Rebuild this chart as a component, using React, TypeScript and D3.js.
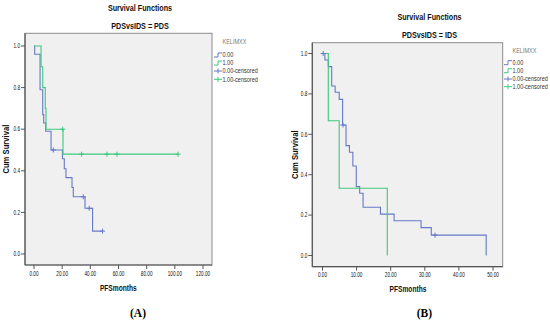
import * as React from "react";
import * as d3 from "d3";

// Panel A (PDS) - KELİMXX = 0.00
const pdsTime0 = [0, 0.5, 4.3, 6.2, 6.9, 8.3, 12.1, 20.2, 21.5, 22.7, 27.0, 27.9, 36.2, 41.6, 48.7];
const pdsSurv0 = [1, 0.96, 0.79, 0.67, 0.63, 0.59, 0.5, 0.458, 0.41, 0.367, 0.32, 0.275, 0.22, 0.11, 0.11];
const pdsCensTime0 = [13.7, 35.0, 39.2, 48.7];
const pdsCensSurv0 = [0.5, 0.275, 0.22, 0.11];
// Panel A (PDS) - KELİMXX = 1.00
const pdsTime1 = [0, 5.0, 6.2, 8.0, 8.5, 20.6, 102.3];
const pdsSurv1 = [1, 0.9, 0.8, 0.7, 0.6, 0.48, 0.48];
const pdsCensTime1 = [20.4, 33.8, 51.8, 58.9, 102.3];
const pdsCensSurv1 = [0.6, 0.48, 0.48, 0.48, 0.48];

// Panel B (IDS) - KELİMXX = 0.00
const idsTime0 = [0, 0.7, 1.7, 2.7, 3.7, 4.9, 5.9, 6.9, 7.9, 8.9, 9.9, 10.9, 11.9, 17.0, 21.0, 28.9, 31.9, 48.0];
const idsSurv0 = [1, 0.968, 0.935, 0.839, 0.808, 0.773, 0.646, 0.544, 0.511, 0.443, 0.341, 0.308, 0.239, 0.205, 0.172, 0.138, 0.101, 0];
const idsCensTime0 = [0.2, 6.0, 33.0];
const idsCensSurv0 = [1, 0.646, 0.101];
// Panel B (IDS) - KELİMXX = 1.00
const idsTime1 = [0, 1.7, 4.9, 19.0];
const idsSurv1 = [1, 0.667, 0.333, 0];

const pdsXTicks = [0, 20, 40, 60, 80, 100, 120];
const idsXTicks = [0, 10, 20, 30, 40, 50];
const yTicks = [0, 0.2, 0.4, 0.6, 0.8, 1.0];
const legendLabels = ["0.00", "1.00", "0.00-censored", "1.00-censored"];

const BLUE = "#6479c6";
const GREEN = "#3cc97e";
const FONT = "'Liberation Sans', Arial, sans-serif";

// condensed text helper (SPSS uses a narrow font)
const CText = ({ x, y, size, sx = 0.75, anchor = "middle", bold = false, rotate = 0, fill = "#111", children }) => (
  <text
    transform={`translate(${x},${y}) rotate(${rotate}) scale(${sx},1)`}
    fontSize={size}
    fontFamily={FONT}
    fontWeight={bold ? "bold" : "normal"}
    textAnchor={anchor}
    dy="0.35em"
    fill={fill}
  >
    {children}
  </text>
);

const Plus = ({ x, y, color }) => (
  <g stroke={color} strokeWidth={1}>
    <line x1={x - 2.5} x2={x + 2.5} y1={y} y2={y} />
    <line x1={x} x2={x} y1={y - 2.5} y2={y + 2.5} />
  </g>
);

const Panel = ({ p }) => {
  const x = d3.scaleLinear().domain(p.xDomain).range(p.xRange);
  const y = d3.scaleLinear().domain([0, 1]).range(p.yRange);
  const line = d3
    .line()
    .x((d) => x(d[0]))
    .y((d) => y(d[1]))
    .curve(d3.curveStepAfter);
  const { fx0, fx1, fy0, fy1 } = p;

  return (
    <g>
      <rect x={fx0} y={fy0} width={fx1 - fx0} height={fy1 - fy0} fill="#f0f0f0" stroke="#8c8c8c" strokeWidth={1} />
      <line x1={fx0} x2={fx0} y1={fy0} y2={fy1} stroke="#555" strokeWidth={1.2} />
      <line x1={fx0} x2={fx1} y1={fy1} y2={fy1} stroke="#555" strokeWidth={1.2} />

      {yTicks.map((t) => (
        <g key={"y" + t}>
          <line x1={fx0 - 4} x2={fx0} y1={y(t)} y2={y(t)} stroke="#555" />
          <CText x={fx0 - 5} y={y(t)} size={6.5} sx={0.72} anchor="end">
            {d3.format(".1f")(t)}
          </CText>
        </g>
      ))}
      {p.xTicks.map((t) => (
        <g key={"x" + t}>
          <line x1={x(t)} x2={x(t)} y1={fy1} y2={fy1 + 4} stroke="#555" />
          <CText x={x(t)} y={fy1 + 8.3} size={6.5} sx={0.72}>
            {d3.format(".2f")(t)}
          </CText>
        </g>
      ))}

      {p.series.map((s, i) => (
        <path
          key={"s" + i}
          d={line(s.time.map((t, j) => [t, s.surv[j]]))}
          fill="none"
          stroke={s.color}
          strokeWidth={1.1}
        />
      ))}
      {p.censored.map((c, i) =>
        c.time.map((t, j) => <Plus key={"c" + i + "-" + j} x={x(t)} y={y(c.surv[j])} color={c.color} />)
      )}

      <CText x={p.titleX} y={p.titleY} size={9} sx={0.8} bold>
        Survival Functions
      </CText>
      <CText x={p.titleX} y={p.subY} size={9} sx={0.8} bold>
        {p.subtitle}
      </CText>
      <CText x={p.xTitleX} y={p.xTitleY} size={8.5} sx={0.78} bold>
        PFSmonths
      </CText>
      <CText x={p.yTitleX} y={(fy0 + fy1) / 2} size={8.5} sx={0.9} bold rotate={-90}>
        Cum Survival
      </CText>

      <CText x={p.legX + 8.5} y={p.legY[0]} size={7} sx={0.79} anchor="start" fill="#777">
        KELİMXX
      </CText>
      {legendLabels.map((lab, i) => {
        const ly = p.legY[i + 1];
        const lx = p.legX;
        const color = i % 2 === 0 ? BLUE : GREEN;
        return (
          <g key={"l" + i}>
            {i < 2 ? (
              <path d={`M${lx},${ly + 2}H${lx + 4}V${ly - 2}H${lx + 8}`} fill="none" stroke={color} strokeWidth={1} />
            ) : (
              <g>
                <line x1={lx} x2={lx + 8} y1={ly} y2={ly} stroke={color} strokeWidth={1} />
                <line x1={lx + 4} x2={lx + 4} y1={ly - 2.5} y2={ly + 2.5} stroke={color} strokeWidth={1} />
              </g>
            )}
            <CText x={lx + 8.5} y={ly} size={7} sx={0.79} anchor="start" fill="#333">
              {lab}
            </CText>
          </g>
        );
      })}

      <text
        x={p.labelX}
        y={313}
        dy="0.35em"
        textAnchor="middle"
        fontFamily="'Liberation Serif', 'Times New Roman', serif"
        fontWeight="bold"
        fontSize={11.5}
      >
        {p.label}
      </text>
    </g>
  );
};

const panels = [
  {
    fx0: 25, fx1: 212, fy0: 33.3, fy1: 265,
    xDomain: [0, 120], xRange: [34, 203], yRange: [254, 46],
    xTicks: pdsXTicks,
    series: [
      { time: pdsTime0, surv: pdsSurv0, color: BLUE },
      { time: pdsTime1, surv: pdsSurv1, color: GREEN },
    ],
    censored: [
      { time: pdsCensTime0, surv: pdsCensSurv0, color: BLUE },
      { time: pdsCensTime1, surv: pdsCensSurv1, color: GREEN },
    ],
    titleX: 140, titleY: 8, subY: 26, subtitle: "PDSvsIDS = PDS",
    xTitleX: 118.3, xTitleY: 288, yTitleX: 6,
    legX: 214, legY: [42, 55, 63, 71, 79.3],
    labelX: 138, label: "(A)",
  },
  {
    fx0: 312.3, fx1: 502.7, fy0: 42.7, fy1: 266.7,
    xDomain: [0, 50], xRange: [322.5, 493], yRange: [255.5, 53.5],
    xTicks: idsXTicks,
    series: [
      { time: idsTime0, surv: idsSurv0, color: BLUE },
      { time: idsTime1, surv: idsSurv1, color: GREEN },
    ],
    censored: [{ time: idsCensTime0, surv: idsCensSurv0, color: BLUE }],
    titleX: 429.5, titleY: 16.7, subY: 34.7, subtitle: "PDSvsIDS = IDS",
    xTitleX: 408, xTitleY: 289, yTitleX: 295,
    legX: 504, legY: [50.7, 62.7, 70.7, 79, 86.7],
    labelX: 424.3, label: "(B)",
  },
];

export default function App() {
  return (
    <svg width={550} height={323} style={{ position: "absolute", left: 0, top: 0, background: "#fff" }}>
      {panels.map((p, i) => (
        <Panel key={i} p={p} />
      ))}
    </svg>
  );
}
